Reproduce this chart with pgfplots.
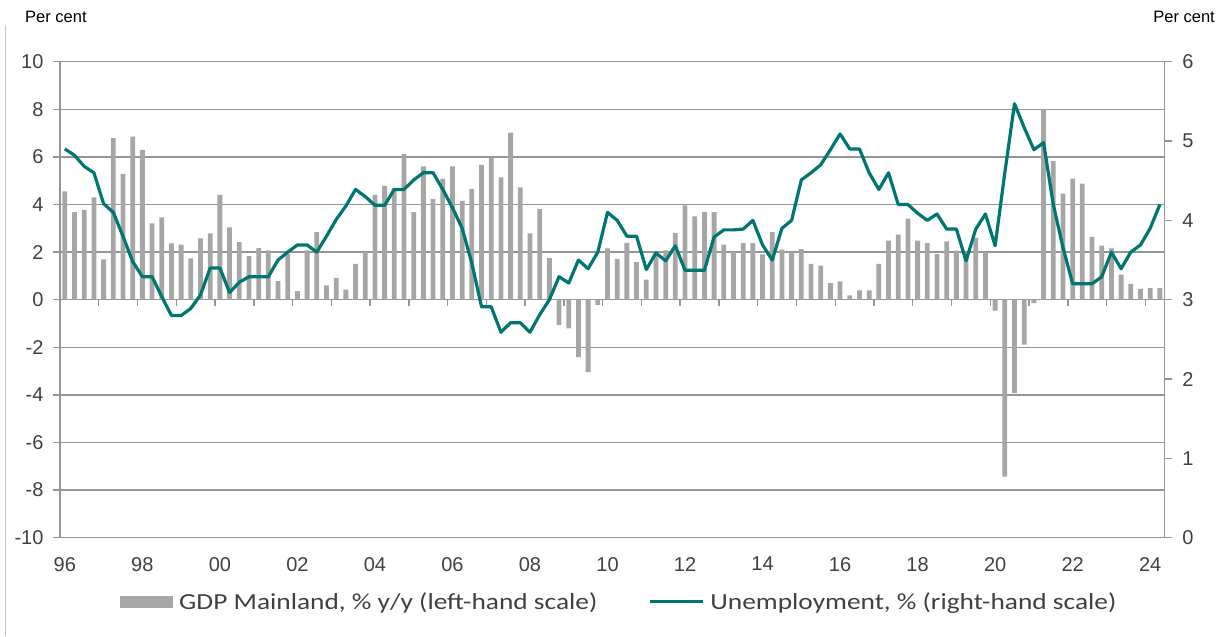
\documentclass[border=0pt]{standalone}
\usepackage{pgfplots}
\usepackage{pgfplotstable}
\pgfplotsset{compat=1.18}
\usepackage{fontspec}
\setmainfont{Liberation Sans}
\newfontfamily\legendfont{Carlito}[FakeStretch=1.19]
\definecolor{barGray}{HTML}{A6A6A6}
\definecolor{gridGray}{HTML}{959595}
\definecolor{lineTeal}{RGB}{0,118,112}
\definecolor{tickText}{HTML}{404040}

% quarterly data, i = 0 is 1996 Q1, i = 113 is 2024 Q2
\pgfplotstableread{
i gdp u
0 4.55 4.90
1 3.68 4.82
2 3.77 4.68
3 4.30 4.60
4 1.69 4.21
5 6.79 4.10
6 5.29 3.80
7 6.85 3.48
8 6.29 3.29
9 3.21 3.29
10 3.46 3.04
11 2.37 2.80
12 2.31 2.80
13 1.74 2.89
14 2.58 3.06
15 2.79 3.40
16 4.40 3.40
17 3.04 3.09
18 2.42 3.22
19 1.83 3.29
20 2.17 3.29
21 2.07 3.29
22 0.78 3.50
23 1.93 3.60
24 0.36 3.69
25 2.07 3.69
26 2.84 3.60
27 0.60 3.80
28 0.92 4.01
29 0.42 4.18
30 1.51 4.39
31 2.00 4.30
32 4.40 4.19
33 4.78 4.19
34 4.70 4.39
35 6.12 4.39
36 3.68 4.51
37 5.60 4.60
38 4.24 4.60
39 5.08 4.39
40 5.60 4.16
41 4.15 3.90
42 4.66 3.46
43 5.66 2.91
44 5.98 2.91
45 5.14 2.59
46 7.02 2.71
47 4.72 2.71
48 2.79 2.59
49 3.82 2.81
50 1.75 3.00
51 -1.06 3.29
52 -1.20 3.21
53 -2.41 3.50
54 -3.04 3.39
55 -0.22 3.60
56 2.16 4.10
57 1.72 4.00
58 2.39 3.80
59 1.58 3.80
60 0.84 3.38
61 2.00 3.59
62 2.07 3.49
63 2.81 3.68
64 3.96 3.37
65 3.50 3.37
66 3.68 3.37
67 3.68 3.79
68 2.31 3.88
69 2.00 3.88
70 2.38 3.89
71 2.38 4.00
72 1.90 3.69
73 2.84 3.50
74 2.10 3.90
75 2.00 4.00
76 2.13 4.51
77 1.50 4.60
78 1.43 4.70
79 0.70 4.89
80 0.77 5.09
81 0.18 4.90
82 0.39 4.90
83 0.39 4.60
84 1.50 4.39
85 2.48 4.60
86 2.73 4.20
87 3.41 4.20
88 2.48 4.09
89 2.38 4.00
90 1.92 4.08
91 2.45 3.89
92 2.06 3.89
93 2.00 3.49
94 2.60 3.89
95 1.99 4.08
96 -0.46 3.68
97 -7.43 4.60
98 -3.93 5.47
99 -1.89 5.17
100 -0.14 4.89
101 8.00 4.98
102 5.82 4.20
103 4.46 3.66
104 5.09 3.20
105 4.88 3.20
106 2.64 3.20
107 2.27 3.29
108 2.16 3.60
109 1.05 3.39
110 0.66 3.60
111 0.45 3.69
112 0.49 3.90
113 0.49 4.20
}\chartdata

\pgfplotsset{
  base/.style={at={(0pt,0pt)}, anchor=south west, scale only axis,
    width=1104.7pt, height=476pt, xmin=-0.5, xmax=113.5},
  tickfont/.style={font=\fontsize{20}{24}\selectfont, text=tickText},
}

\begin{document}
\begin{tikzpicture}
\useasboundingbox (-60pt,-99.3pt) rectangle (1164pt,537.7pt);
\draw[color=black!22, line width=1pt] (-54pt,512.7pt) -- (-54pt,-98.3pt);

% left axis: GDP bars
\begin{axis}[base,
  ymin=-10, ymax=10, ytick={-10,-8,...,10},
  ymajorgrids, grid style={gridGray, line width=1.4pt},
  axis line style={gridGray, line width=1.4pt},
  xtick={0,8,...,112},
  xticklabels={96,98,00,02,04,06,08,10,12,14,16,18,20,22,24},
  xtick style={draw=none},
  ytick pos=left, ytick style={gridGray, line width=1.4pt},
  tick align=outside, major tick length=7pt,
  ticklabel style={tickfont},
  yticklabel style={xshift=-6pt},
  xticklabel style={yshift=-9pt},
  /pgf/number format/assume math mode=true,
  legend columns=2,
  legend style={at={(0.0543,-0.135)}, anchor=west, draw=none, fill=none,
    inner sep=0pt, font=\legendfont\fontsize{23}{27}\selectfont, text=tickText,
    nodes={inner sep=0pt},
    /tikz/every odd column/.append style={column sep=6pt},
    /tikz/every even column/.append style={column sep=51pt}},
]
\addplot[ybar, bar width=4.8pt, fill=barGray, draw=none,
  legend image code/.code={\fill[barGray] (0pt,-6pt) rectangle (53pt,6pt);}]
  table[x=i, y=gdp]{\chartdata};
\addlegendentry{GDP Mainland, \% y/y (left-hand scale)}
\addlegendimage{legend image code/.code={\draw[lineTeal, line width=3pt] (0pt,0pt) -- (53pt,0pt);}}
\addlegendentry{Unemployment, \% (right-hand scale)}
\end{axis}

% year-boundary tick marks on the zero line
\begin{axis}[base,
  ymin=-10, ymax=10,
  axis y line=none, axis x line=middle,
  axis line style={draw=none},
  xtick={3.5,7.5,...,111.5}, xticklabels={},
  xtick style={gridGray, line width=1.4pt},
  tick align=outside, major tick length=6pt,
]
\addplot[draw=none] coordinates {(0,0)};
\end{axis}

% right axis: unemployment line
\begin{axis}[base,
  ymin=0, ymax=6, ytick={0,1,...,6},
  axis x line=none, axis y line*=right,
  axis line style={gridGray, line width=1.4pt},
  ytick style={gridGray, line width=1.4pt},
  tick align=outside, major tick length=7pt,
  ticklabel style={tickfont},
  yticklabel style={xshift=7pt},
  /pgf/number format/assume math mode=true,
]
\addplot[lineTeal, line width=3.2pt, line join=round, mark=none]
  table[x=i, y=u]{\chartdata};
\end{axis}

\node[anchor=base west, font=\fontsize{16.5}{20}\selectfont, inner sep=0pt] at (-35pt,515.2pt) {Per cent};
\node[anchor=base east, font=\fontsize{16.5}{20}\selectfont, inner sep=0pt] at (1155pt,515.2pt) {Per cent};
\end{tikzpicture}
\end{document}
